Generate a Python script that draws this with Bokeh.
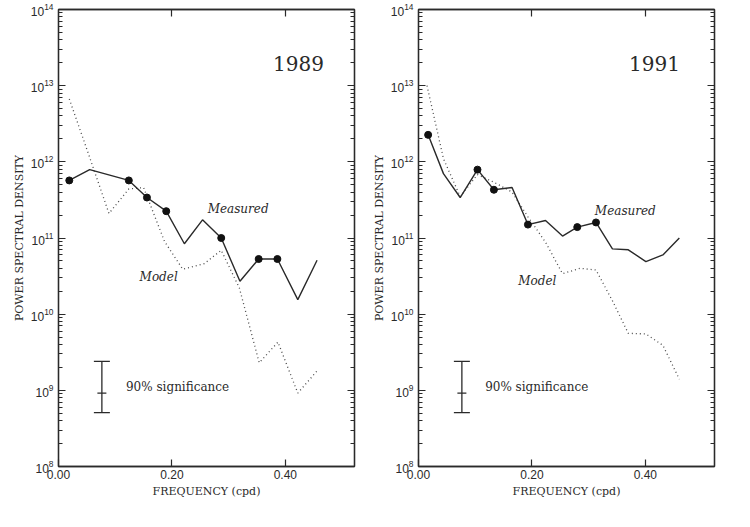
from bokeh.plotting import figure
from bokeh.models import (LogAxis, LinearAxis, FixedTicker, LogTicker, Range1d,
                          Whisker, TeeHead, ColumnDataSource, NumeralTickFormatter)
from bokeh.layouts import row
from bokeh.embed import file_html
from bokeh.resources import INLINE
from bokeh.core.properties import value

# ---------------- data ----------------
freq_meas_1989 = [0.019, 0.055, 0.124, 0.156, 0.190, 0.222, 0.254, 0.287, 0.320, 0.353, 0.386, 0.422, 0.456]
psd_meas_1989 = [5.7e11, 7.9e11, 5.7e11, 3.4e11, 2.25e11, 8.4e10, 1.73e11, 1.0e11, 2.7e10, 5.3e10, 5.3e10, 1.55e10, 5.1e10]
dots_1989 = [0, 2, 3, 4, 7, 9, 10]
freq_model_1989 = [0.019, 0.054, 0.089, 0.124, 0.150, 0.187, 0.219, 0.257, 0.287, 0.319, 0.354, 0.387, 0.422, 0.456]
psd_model_1989 = [6.7e12, 1.2e12, 2.1e11, 4.4e11, 4.6e11, 9.0e10, 3.9e10, 4.6e10, 6.9e10, 2.2e10, 2.3e9, 4.3e9, 9.2e8, 1.8e9]

freq_meas_1991 = [0.017, 0.044, 0.0735, 0.104, 0.133, 0.165, 0.193, 0.224, 0.254, 0.280, 0.313, 0.342, 0.370, 0.401, 0.431, 0.460]
psd_meas_1991 = [2.26e12, 7.0e11, 3.4e11, 7.9e11, 4.3e11, 4.6e11, 1.5e11, 1.7e11, 1.06e11, 1.39e11, 1.6e11, 7.2e10, 7.0e10, 4.9e10, 6.0e10, 1.0e11]
dots_1991 = [0, 3, 4, 6, 9, 10]
freq_model_1991 = [0.015, 0.044, 0.0735, 0.104, 0.133, 0.165, 0.193, 0.224, 0.254, 0.285, 0.313, 0.342, 0.370, 0.401, 0.431, 0.460]
psd_model_1991 = [1.0e13, 1.1e12, 3.5e11, 6.8e11, 5.4e11, 4.0e11, 1.9e11, 8.8e10, 3.4e10, 4.0e10, 3.8e10, 1.5e10, 5.6e9, 5.5e9, 3.9e9, 1.4e9]

# 90% significance bar (same in both panels)
sig_freq = [0.0765]
sig_low = [5.1e8]
sig_mid = [9.2e8]
sig_high = [2.4e9]
sig_text = ["90% significance"]

x_ticks = [0.0, 0.2, 0.4]
x_max = 0.522
y_min, y_max = 1e8, 1e14

years = ["1989", "1991"]
year_pos = [(0.468, 1.94e13), (0.461, 1.94e13)]
meas_label_pos = [(0.263, 2.37e11), (0.311, 2.25e11)]
model_label_pos = [(0.143, 3.06e10), (0.176, 2.7e10)]
sig_text_pos = [(0.119, 1.1e9), (0.1175, 1.1e9)]

INK = "#2a2a2a"
SERIF = "DejaVu Serif"


def style_axis(ax, labels=True, label_standoff=8):
    ax.axis_line_color = INK
    ax.axis_line_width = 1.3
    ax.major_tick_line_color = INK
    ax.minor_tick_line_color = INK
    ax.major_tick_line_width = 1.2
    ax.minor_tick_line_width = 1.0
    ax.major_tick_in = 7
    ax.major_tick_out = 0
    ax.minor_tick_in = 4
    ax.minor_tick_out = 0
    ax.major_label_text_font = "Liberation Sans"
    ax.major_label_text_color = INK
    if labels:
        ax.major_label_text_font_size = "12px"
        ax.major_label_standoff = 5
    else:
        ax.major_label_text_font_size = "1px"
        ax.major_label_text_alpha = 0
        ax.major_label_standoff = 0
    ax.axis_label_text_font = SERIF
    ax.axis_label_text_font_style = "normal"
    ax.axis_label_text_font_size = "11px"
    ax.axis_label_text_color = INK
    ax.axis_label_standoff = label_standoff


def make_panel(i, fm, pm, dots, fmod, pmod, border_left):
    p = figure(x_range=Range1d(0, x_max), y_range=Range1d(y_min, y_max),
               y_axis_type="log", frame_width=296, frame_height=457,
               min_border_left=border_left, min_border_right=6,
               min_border_top=9, min_border_bottom=40,
               output_backend="svg", toolbar_location=None,
               background_fill_color="white", border_fill_color="white",
               outline_line_color=INK, outline_line_width=1.3)
    p.xgrid.visible = False
    p.ygrid.visible = False

    p.yaxis.ticker = LogTicker(desired_num_ticks=7, num_minor_ticks=10)
    p.yaxis.axis_label = "POWER SPECTRAL DENSITY"
    style_axis(p.yaxis[0], label_standoff=2)

    p.xaxis.ticker = FixedTicker(ticks=x_ticks, minor_ticks=[])
    p.xaxis.formatter = NumeralTickFormatter(format="0.00")
    p.xaxis.axis_label = "FREQUENCY (cpd)"
    style_axis(p.xaxis[0], label_standoff=3)
    p.xaxis.major_label_standoff = 3

    ra = LogAxis(ticker=LogTicker(desired_num_ticks=7, num_minor_ticks=10))
    style_axis(ra, labels=False)
    p.add_layout(ra, "right")
    ta = LinearAxis(ticker=FixedTicker(ticks=x_ticks[1:], minor_ticks=[]))
    style_axis(ta, labels=False)
    p.add_layout(ta, "above")

    # model (dotted)
    p.line(fmod, pmod, line_color="#4a4a4a", line_width=1.3, line_dash="1 3")
    # measured (solid) with marked points
    p.line(fm, pm, line_color=INK, line_width=1.4)
    p.scatter([fm[k] for k in dots], [pm[k] for k in dots], size=7,
              fill_color="#111111", line_color="#111111")

    # significance bar
    src = ColumnDataSource(dict(x=sig_freq, lo=sig_low, hi=sig_high))
    p.add_layout(Whisker(source=src, base="x", lower="lo", upper="hi",
                         dimension="height", line_color=INK, line_width=1.3,
                         upper_head=TeeHead(size=16, line_color=INK, line_width=1.3),
                         lower_head=TeeHead(size=16, line_color=INK, line_width=1.3)))
    p.scatter(sig_freq, sig_mid, marker="dash", size=9, line_color=INK, line_width=1.3)
    p.text([sig_text_pos[i][0]], [sig_text_pos[i][1]], text=sig_text,
           text_font=value(SERIF), text_font_size="12px", text_color=INK,
           text_align="left", text_baseline="middle")

    # labels
    p.text([year_pos[i][0]], [year_pos[i][1]], text=[years[i]],
           text_font=value(SERIF), text_font_size="20px", text_color=INK,
           text_align="right", text_baseline="middle")
    p.text([meas_label_pos[i][0]], [meas_label_pos[i][1]], text=["Measured"],
           text_font=value(SERIF), text_font_style="italic", text_font_size="12px",
           text_color=INK, text_align="left", text_baseline="middle")
    p.text([model_label_pos[i][0]], [model_label_pos[i][1]], text=["Model"],
           text_font=value(SERIF), text_font_style="italic", text_font_size="12px",
           text_color=INK, text_align="left", text_baseline="middle")
    return p


p1 = make_panel(0, freq_meas_1989, psd_meas_1989, dots_1989,
                freq_model_1989, psd_model_1989, 58)
p2 = make_panel(1, freq_meas_1991, psd_meas_1991, dots_1991,
                freq_model_1991, psd_model_1991, 58)

layout = row(p1, p2)
open("out.html", "w").write(file_html(layout, INLINE))
